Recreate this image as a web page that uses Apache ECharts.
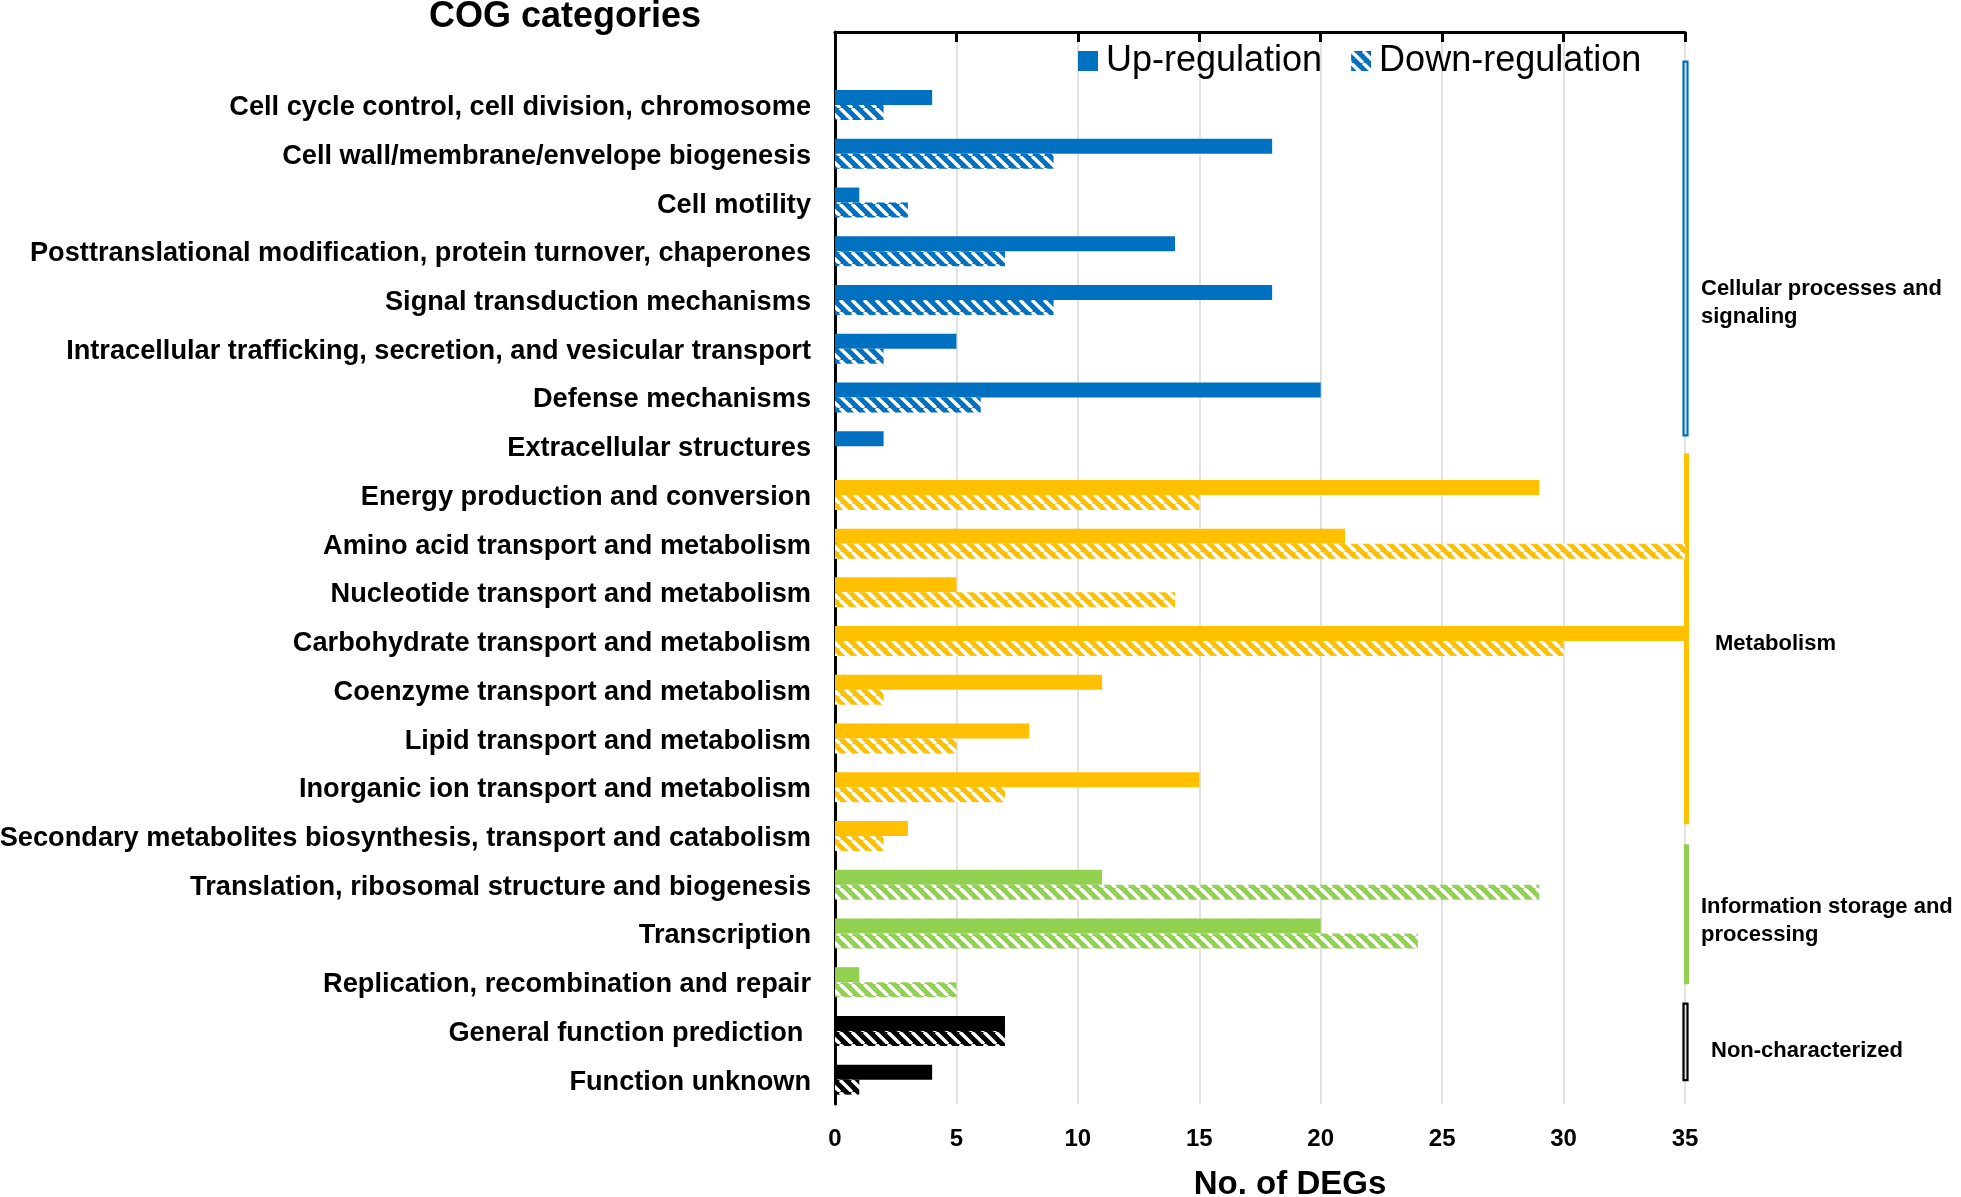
<!DOCTYPE html>
<html><head><meta charset="utf-8">
<script src="https://cdn.jsdelivr.net/npm/echarts@6/dist/echarts.min.js"></script>
<style>html,body{margin:0;padding:0;background:#fff}#chart{width:1961px;height:1197px}</style>
</head><body><div id="chart"></div>
<script>
// ---------- data ----------
const categories = [
  "",
  "Cell cycle control, cell division, chromosome",
  "Cell wall/membrane/envelope biogenesis",
  "Cell motility",
  "Posttranslational modification, protein turnover, chaperones",
  "Signal transduction mechanisms",
  "Intracellular trafficking, secretion, and vesicular transport",
  "Defense mechanisms",
  "Extracellular structures",
  "Energy production and conversion",
  "Amino acid transport and metabolism",
  "Nucleotide transport and metabolism",
  "Carbohydrate transport and metabolism",
  "Coenzyme transport and metabolism",
  "Lipid transport and metabolism",
  "Inorganic ion transport and metabolism",
  "Secondary metabolites biosynthesis, transport and catabolism",
  "Translation, ribosomal structure and biogenesis",
  "Transcription",
  "Replication, recombination and repair",
  "General function prediction ",
  "Function unknown"
];
const upValues   = [null, 4, 18, 1, 14, 18, 5, 20, 2, 29, 21, 5, 35, 11, 8, 15, 3, 11, 20, 1, 7, 4];
const downValues = [null, 2, 9, 3, 7, 9, 2, 6, 0, 15, 35, 14, 30, 2, 5, 7, 2, 29, 24, 5, 7, 1];
const categoryGroup = [-1, 0,0,0,0,0,0,0,0, 1,1,1,1,1,1,1,1, 2,2,2, 3,3];
const groupNames = ["Cellular processes and\nsignaling", "Metabolism", "Information storage and\nprocessing", "Non-characterized"];
const groupStart = [0.61, 8.65, 16.67, 19.94];
const groupEnd   = [8.28, 16.26, 19.54, 21.51];
const groupLabelAt = [5.5, 12.49, 18.18, 20.84];
const groupAxisValue = [35, 35, 35, 35];
const seriesNames = ["Up-regulation", "Down-regulation"];
const xMin = 0, xMax = 35, xStep = 5;

// ---------- styles ----------
const groupColors = ["#0070C0", "#FFC000", "#92D050", "#000000"];
const groupDouble = [true, false, false, true];
const groupLabelDx = [16, 30, 16, 26];
const SANS = "'Liberation Sans',Arial,sans-serif";

function hatch(color) {
  const P = 12;
  const c = document.createElement('canvas');
  c.width = P; c.height = P;
  const ctx = c.getContext('2d');
  ctx.fillStyle = color; ctx.fillRect(0, 0, P, P);
  ctx.strokeStyle = '#ffffff'; ctx.lineWidth = 3.4;
  for (let k = -1; k <= 1; k++) {
    ctx.beginPath(); ctx.moveTo(k * P, 0); ctx.lineTo(k * P + P, P); ctx.stroke();
  }
  return { image: c, repeat: 'repeat' };
}
const hatchColors = groupColors.map(hatch);

const upData = upValues.map((v, i) => ({
  value: v,
  itemStyle: { color: categoryGroup[i] >= 0 ? groupColors[categoryGroup[i]] : groupColors[0] }
}));
const downData = downValues.map((v, i) => ({
  value: v,
  itemStyle: { color: categoryGroup[i] >= 0 ? hatchColors[categoryGroup[i]] : hatchColors[0] }
}));
const groupData = groupNames.map((n, i) => [groupAxisValue[i], groupStart[i], groupEnd[i], groupLabelAt[i], i]);

const chart = echarts.init(document.getElementById('chart'), null, { renderer: 'canvas' });
chart.setOption({
  animation: false,
  backgroundColor: '#ffffff',
  title: {
    text: 'COG categories', left: 429, top: -1, padding: 0,
    textStyle: { fontFamily: SANS, fontWeight: 'bold', fontSize: 36, color: '#000' }
  },
  legend: {
    data: seriesNames, left: 1078, top: 43, padding: 0,
    icon: 'rect', itemWidth: 20, itemHeight: 20, itemGap: 29,
    textStyle: { fontFamily: SANS, fontSize: 36, color: '#000', padding: [0, 0, 0, 3] }
  },
  grid: { left: 835, top: 32, width: 850, height: 1072, containLabel: false, outerBoundsMode: 'none' },
  xAxis: {
    type: 'value', min: xMin, max: xMax, interval: xStep,
    name: 'No. of DEGs', nameLocation: 'middle', nameGap: 64,
    nameTextStyle: { fontFamily: SANS, fontWeight: 'bold', fontSize: 33, color: '#000', padding: [0, 0, 0, 60] },
    axisLine: { show: true, lineStyle: { color: '#000', width: 3 } },
    axisTick: { show: true, inside: false, length: 10, lineStyle: { color: '#000', width: 3 } },
    axisLabel: { margin: 23, fontFamily: SANS, fontWeight: 'bold', fontSize: 24, color: '#000' },
    splitLine: { show: true, lineStyle: { color: '#d9d9d9', width: 1.5 } }
  },
  yAxis: [{
    type: 'category', data: categories, inverse: true,
    axisLine: { show: true, lineStyle: { color: '#000', width: 3 } },
    axisTick: { show: false },
    axisLabel: {
      margin: 24, color: '#000',
      formatter: v => '{c|' + v + '}',
      rich: { c: { fontFamily: SANS, fontWeight: 'bold', fontSize: 27.2, color: '#000', padding: [5, 0, 0, 0] } }
    },
    splitLine: { show: false }
  }, {
    type: 'value', min: 0, max: categories.length, inverse: true, show: false,
    splitLine: { show: false }
  }],
  series: [{
    name: seriesNames[0], type: 'bar', data: upData, barWidth: 15, barGap: '0%',
    itemStyle: { color: groupColors[0] }, yAxisIndex: 0
  }, {
    name: seriesNames[1], type: 'bar', data: downData, barWidth: 15, barGap: '0%',
    itemStyle: { color: hatchColors[0] }, yAxisIndex: 0
  }, {
    name: 'groups', type: 'custom', yAxisIndex: 1, xAxisIndex: 0, data: groupData, clip: false,
    renderItem: function (params, api) {
      const i = api.value(4);
      const x = api.value(0);
      const p1 = api.coord([x, api.value(1)]);
      const p2 = api.coord([x, api.value(2)]);
      const pl = api.coord([x, api.value(3)]);
      const color = groupColors[i];
      const rect = groupDouble[i]
        ? { type: 'rect', shape: { x: p1[0] - 1.5, y: p1[1], width: 4, height: p2[1] - p1[1] },
            style: { fill: 'none', stroke: color, lineWidth: 2.2 } }
        : { type: 'rect', shape: { x: p1[0] - 1, y: p1[1], width: 5, height: p2[1] - p1[1] },
            style: { fill: color } };
      return { type: 'group', children: [rect, {
        type: 'text', x: p1[0] + groupLabelDx[i], y: pl[1] + 3,
        style: { text: groupNames[i], fill: '#000', font: 'bold 22px ' + SANS,
                 align: 'left', verticalAlign: 'middle', lineHeight: 28 }
      }] };
    }
  }]
});
</script></body></html>
